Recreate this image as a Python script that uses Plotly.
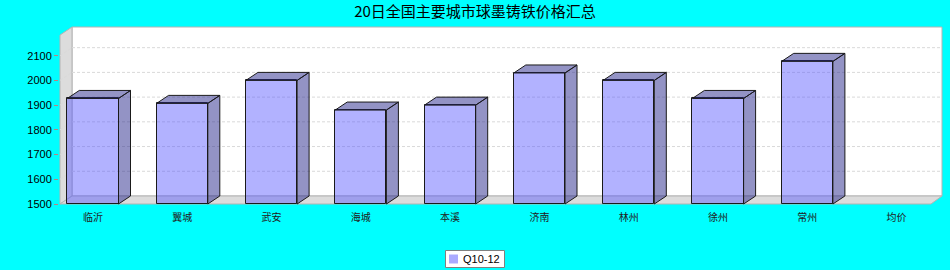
import plotly.graph_objects as go

# ---------------- data ----------------
categories = ["临沂", "翼城", "武安", "海城", "本溪", "济南", "林州", "徐州", "常州", "均价"]
values = [1927, 1907, 2000, 1880, 1900, 2030, 2000, 1927, 2077, None]
series_name = "Q10-12"
y_ticks = [1500, 1600, 1700, 1800, 1900, 2000, 2100]
title_text = "20日全国主要城市球墨铸铁价格汇总"

# ---------------- geometry (pixels) ----------------
W, H = 950, 270
PL, PR, PT, PB = 59, 943, 26, 205          # plot area in pixels
CAT_PX = 89.3                              # pixels per category
C0_PX = 92.9                               # pixel x of first category centre
BASE_PX = 204                              # pixel y of base value (front)
BASE_V = 1500
PX_PER_UNIT = 0.2472
DX_PX, DY_PX = 12, 8                       # 3D depth offsets
BAR_PX = 51.2

def px2x(px):
    return (px - C0_PX) / CAT_PX

def py2y(py):
    return BASE_V + (BASE_PX - py) / PX_PER_UNIT

def px2paper(px):
    return (px - PL) / (PR - PL)

def py2paper(py):
    return (PB - py) / (PB - PT)

x_range = [px2x(PL), px2x(PR)]
y_range = [py2y(PB), py2y(PT)]
DX = DX_PX / CAT_PX
DY = DY_PX / PX_PER_UNIT
BW = BAR_PX / CAT_PX

# wall corners
xf_l = px2x(60)       # left wall front
xb_l = px2x(72)       # left wall back
xb_r = px2x(942)      # back wall right
xf_r = px2x(931)      # floor front right
y_base = BASE_V
y_base_back = BASE_V + DY
y_top_back = py2y(27)
y_top_front = y_top_back - DY

wall_fill = "#dcdcdc"
wall_line = "#b4b4b4"
grid_col = "#d9d9d9"
bar_front = "rgba(85,85,255,0.45)"
bar_face = "rgba(40,40,140,0.5)"
edge_col = "#1a1a1a"

shapes = []
# back wall
shapes.append(dict(type="rect", xref="x", yref="y", x0=xb_l, x1=xb_r, y0=y_base_back, y1=y_top_back,
                   fillcolor="white", line=dict(color=wall_line, width=1), layer="below"))
# left wall
shapes.append(dict(type="path", xref="x", yref="y",
                   path=f"M {xf_l},{y_base} L {xf_l},{y_top_front} L {xb_l},{y_top_back} L {xb_l},{y_base_back} Z",
                   fillcolor=wall_fill, line=dict(color=wall_line, width=1), layer="below"))
# floor
shapes.append(dict(type="path", xref="x", yref="y",
                   path=f"M {xf_l},{y_base} L {xf_r},{y_base} L {xb_r},{y_base_back} L {xb_l},{y_base_back} Z",
                   fillcolor=wall_fill, line=dict(color=wall_line, width=1), layer="below"))
# gridlines on walls
for t in y_ticks[1:]:
    shapes.append(dict(type="line", xref="x", yref="y", x0=xb_l, x1=xb_r, y0=t + DY, y1=t + DY,
                       line=dict(color=grid_col, width=1, dash="3px,2px"), layer="below"))
    shapes.append(dict(type="line", xref="x", yref="y", x0=xf_l, x1=xb_l, y0=t, y1=t + DY,
                       line=dict(color=grid_col, width=1, dash="3px,2px"), layer="below"))

# legend (drawn manually to match the compact box)
shapes.append(dict(type="rect", xref="paper", yref="paper",
                   x0=px2paper(445.5), x1=px2paper(504.5), y0=py2paper(267.5), y1=py2paper(250.5),
                   fillcolor="white", line=dict(color="#808080", width=1)))
shapes.append(dict(type="rect", xref="paper", yref="paper",
                   x0=px2paper(449), x1=px2paper(458), y0=py2paper(263.5), y1=py2paper(254.5),
                   fillcolor="#aaaaff", line=dict(width=0)))
annotations = [dict(text=series_name, xref="paper", yref="paper", x=px2paper(460.5), y=py2paper(259),
                    xanchor="left", yanchor="middle", showarrow=False,
                    font=dict(family="Liberation Sans", size=11, color="black"))]

# ---------------- traces ----------------
xs = list(range(len(categories)))
heights = [None if v is None else v - BASE_V for v in values]

front = go.Bar(
    x=xs, y=heights, base=BASE_V, width=BW, name=series_name,
    marker=dict(color=bar_front, line=dict(color=edge_col, width=1)),
    cliponaxis=False, hovertemplate="%{customdata}: %{y}<extra></extra>",
    customdata=categories, showlegend=False,
)

top_x, top_y, side_x, side_y = [], [], [], []
for i, v in enumerate(values):
    if v is None:
        continue
    xl, xr = i - BW / 2, i + BW / 2
    top_x += [xl, xl + DX, xr + DX, xr, xl, None]
    top_y += [v, v + DY, v + DY, v, v, None]
    side_x += [xr, xr + DX, xr + DX, xr, xr, None]
    side_y += [v, v + DY, BASE_V + DY, BASE_V, v, None]

face_style = dict(mode="lines", fill="toself", fillcolor=bar_face,
                  line=dict(color=edge_col, width=1), showlegend=False, hoverinfo="skip",
                  cliponaxis=False)
side = go.Scatter(x=side_x, y=side_y, **face_style)
top = go.Scatter(x=top_x, y=top_y, **face_style)

fig = go.Figure([front, side, top])

fig.update_layout(
    width=W, height=H,
    margin=dict(l=PL, r=W - PR, t=PT, b=H - PB, pad=0, autoexpand=False),
    paper_bgcolor="#00ffff", plot_bgcolor="rgba(0,0,0,0)",
    shapes=shapes, annotations=annotations,
    title=dict(text=title_text, x=0.5, xref="container", xanchor="center",
               y=1 - 12 / H, yref="container", yanchor="middle",
               font=dict(family="Noto Sans CJK SC", size=15, color="black")),
    showlegend=False,
    bargap=0,
)
fig.update_xaxes(range=x_range, tickmode="array", tickvals=xs, ticktext=categories,
                 showgrid=False, zeroline=False, showline=False,
                 ticks="outside", ticklen=3, tickcolor="rgba(0,0,0,0)",
                 tickfont=dict(family="Noto Sans CJK SC", size=10, color="#202020"),
                 fixedrange=True, automargin=False)
fig.update_yaxes(range=y_range, tickmode="array", tickvals=y_ticks,
                 showgrid=False, zeroline=False, showline=False,
                 ticks="outside", ticklen=4, tickcolor="#c08080", tickwidth=1,
                 tickfont=dict(family="Liberation Sans", size=11, color="black"),
                 fixedrange=True, automargin=False)

fig.write_html("out.html")
